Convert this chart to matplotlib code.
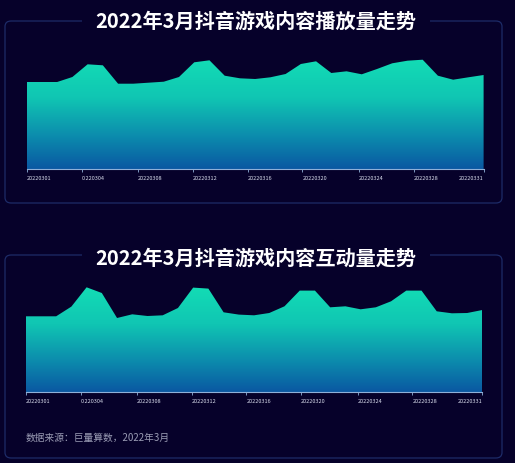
import matplotlib
matplotlib.use("Agg")
import matplotlib.pyplot as plt
import numpy as np
from matplotlib.colors import LinearSegmentedColormap
from matplotlib.patches import FancyBboxPatch

plt.rcParams['font.family'] = ['Noto Sans CJK SC', 'DejaVu Sans']

# daily values (relative units)
days = list(range(1, 32))
play = [87, 87, 87, 92, 104.7, 103.7, 85.3, 85.3, 86.3, 87.3, 92, 106.7, 108.7, 93.3, 90.7, 90,
        91.7, 95, 105, 107.7, 96, 97.7, 94.7, 100, 105.7, 108.3, 109.3, 93.3, 89.3, 91.7, 94]
interact = [76, 76, 76, 85.7, 105, 99.3, 74.3, 78, 76.3, 77, 84.3, 104.7, 103.7, 80, 77.7, 77,
            79.3, 86, 101.7, 101.7, 85, 86, 83, 85, 91, 101.7, 101.7, 81, 79, 79.3, 82.3]
tick_labels = ['20220301', '0.220304', '20220308', '20220312', '20220316',
               '20220320', '20220324', '20220328', '20220331']
titles = ['2022年3月抖音游戏内容播放量走势', '2022年3月抖音游戏内容互动量走势']
source = '数据来源：巨量算数，2022年3月'

bg = '#06012a'
W, H = 515, 464
fig = plt.figure(figsize=(W / 100, H / 100), dpi=100, facecolor=bg)

cmap = LinearSegmentedColormap.from_list('g', [(0, '#0a58a2'), (0.3, '#0c8cad'),
                                               (0.65, '#10c6b3'), (1, '#13dcb5')])


def px(x0, y0, x1, y1):
    # pixel box (top-left origin) -> figure fraction rect
    return [x0 / W, 1 - y1 / H, (x1 - x0) / W, (y1 - y0) / H]


def panel(y0, y1, title, ty):
    box = FancyBboxPatch((5 / W, 1 - y1 / H), 497 / W, (y1 - y0) / H,
                         boxstyle='round,pad=0,rounding_size=0.012',
                         transform=fig.transFigure, facecolor='none',
                         edgecolor='#1d2b68', lw=0.9)
    fig.patches.append(box)
    fig.text(256 / W, 1 - ty / H, title, color='white', fontsize=14.5, fontweight='bold',
             ha='center', va='center',
             bbox=dict(facecolor=bg, edgecolor='none', pad=10))


def area(rect, vals, ticks):
    ax = fig.add_axes(rect)
    ax.set_facecolor(bg)
    x = np.arange(len(vals))
    grad = np.linspace(0, 1, 256).reshape(-1, 1)
    top = max(vals)
    im = ax.imshow(grad, cmap=cmap, origin='lower', aspect='auto',
                   extent=[0, len(vals) - 1, 0, top], zorder=1)
    poly = ax.fill_between(x, vals, 0, facecolor='none', edgecolor='none')
    im.set_clip_path(poly.get_paths()[0], transform=ax.transData)
    ax.set_xlim(0, len(vals) - 1)
    ax.set_ylim(0, 120)
    for s in ['top', 'right', 'left']:
        ax.spines[s].set_visible(False)
    ax.spines['bottom'].set_color('#8fb0d8')
    ax.spines['bottom'].set_linewidth(0.8)
    ax.set_yticks([])
    ax.set_xticks(ticks)
    ax.set_xticklabels(tick_labels, fontsize=4, color='#d8dcec')
    ax.tick_params(axis='x', length=2, width=0.6, color='#8fb0d8', pad=2)
    for i, lab in enumerate(ax.get_xticklabels()):
        lab.set_ha('right' if i == len(tick_labels) - 1 else 'left')
    return ax


tick_pos = [0, 3.6, 7.3, 10.9, 14.5, 18.1, 21.8, 25.4, 30]

panel(22, 204, titles[0], 21)
area(px(26.7, 50, 483.6, 170), play, tick_pos)

panel(256, 459, titles[1], 258)
area(px(25.7, 273.3, 482.4, 393.3), interact, tick_pos)

fig.text(26 / W, 1 - 438 / H, source, color='#9a9cb4', fontsize=7, ha='left', va='center')

fig.savefig('out.png', dpi=100, facecolor=bg)
